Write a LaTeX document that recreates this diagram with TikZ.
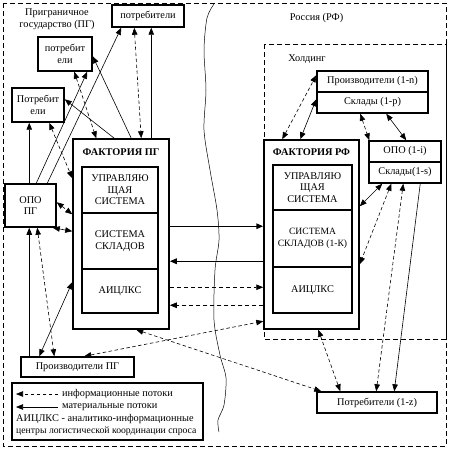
\documentclass[tikz,border=0pt]{standalone}
\usepackage{fontspec}
\setmainfont{Liberation Serif}
\usetikzlibrary{arrows.meta,calc}
\begin{document}
\begin{tikzpicture}[x=1pt,y=-1pt,
  >={Triangle[length=7pt,width=5.5pt]},
  font=\fontsize{10.3}{11.5}\selectfont,
  box/.style={draw, line width=1.5pt, inner sep=0pt, align=center},
  txt/.style={inner sep=0pt, align=center},
  mat/.style={line width=0.6pt},
  inf/.style={line width=0.6pt, dash pattern=on 3.5pt off 2.5pt},
  matthick/.style={line width=1.5pt},
  infthick/.style={line width=0.8pt, dash pattern=on 4pt off 3pt},
  region/.style={line width=0.8pt, dash pattern=on 5pt off 3pt}]
\useasboundingbox (0,0) rectangle (448,449);

% regions
\draw[region] (3,3) rectangle (446,446);
\draw[region] (264,44) rectangle (446,339);
\draw[line width=0.5pt] plot[smooth] coordinates {(214,4) (207,18) (204,50) (206,90) (204,130) (210,170) (217,210) (219,240) (215,270) (214,320) (220,355) (226,378) (224,405) (218,420) (219,432)};

% labels
\node[txt] (lpg) at (57,19) {Приграничное\\государство (ПГ)};
\node[txt] (lrf) at (316.5,18) {Россия (РФ)};
\node[txt] (lhold) at (307,59) {Холдинг};

% boxes PG
\node[box, minimum width=72pt, minimum height=22pt] (potr1) at (148,16) {потребители};
\node[box, minimum width=54pt, minimum height=34pt] (potr2) at (65,54) {потребит\\ели};
\node[box, minimum width=52pt, minimum height=34pt] (potr3) at (38,105) {Потребит\\ели};
\node[box, minimum width=51pt, minimum height=43pt] (opo) at (30.5,205.5) {ОПО\\ПГ};
\node[box, minimum width=113pt, minimum height=20pt] (prodpg) at (77.5,367) {Производители ПГ};

% factory PG
\node[box, minimum width=96pt, minimum height=190pt] (fpg) at (121,234) {};
\node[txt, font=\fontsize{10.3}{11.5}\selectfont\bfseries] (fpgt) at (121,152) {ФАКТОРИЯ ПГ};
\node[box, minimum width=76pt, minimum height=46pt] (fpg1) at (120,190) {УПРАВЛЯЮ\\ЩАЯ\\СИСТЕМА};
\node[box, minimum width=76pt, minimum height=56pt] (fpg2) at (120,241) {СИСТЕМА\\СКЛАДОВ};
\node[box, minimum width=76pt, minimum height=44pt] (fpg3) at (120,291) {АИЦЛКС};

% factory RF
\node[box, minimum width=95pt, minimum height=189pt] (frf) at (311.5,234.5) {};
\node[txt, font=\fontsize{10.3}{11.5}\selectfont\bfseries] (frft) at (311.5,152) {ФАКТОРИЯ РФ};
\node[box, minimum width=79pt, minimum height=45pt] (frf1) at (312.5,187.5) {УПРАВЛЯЮ\\ЩАЯ\\СИСТЕМА};
\node[box, minimum width=79pt, minimum height=57pt, font=\fontsize{9.6}{11.5}\selectfont] (frf2) at (312.5,238.5) {СИСТЕМА\\СКЛАДОВ (1-К)};
\node[box, minimum width=79pt, minimum height=46pt] (frf3) at (312.5,290) {АИЦЛКС};

% holding boxes
\node[box, minimum width=111pt, minimum height=21pt] (prodn) at (372.5,81.5) {Производители (1-n)};
\node[box, minimum width=111pt, minimum height=21pt] (sklp) at (372.5,102.5) {Склады (1-р)};
\node[box, minimum width=72pt, minimum height=21pt] (opoi) at (405,151.5) {ОПО (1-i)};
\node[box, minimum width=72pt, minimum height=21pt] (skls) at (405,172.5) {Склады(1-s)};
\node[box, minimum width=120pt, minimum height=21pt] (potrz) at (377,402.5) {Потребители (1-z)};

% legend
\node[box, minimum width=191pt, minimum height=57pt] (leg) at (107.5,411.5) {};
\node[txt, anchor=west] (leg1) at (62,394) {информационные потоки};
\node[txt, anchor=west] (leg2) at (62,407) {материальные потоки};
\node[txt, anchor=west] (leg3) at (16,419) {АИЦЛКС - аналитико-информационные};
\node[txt, anchor=west, font=\fontsize{9.7}{11}\selectfont] (leg4) at (16,431) {центры логистической координации спроса};
\coordinate (la1) at (16,394); \coordinate (lb1) at (58,394);
\coordinate (la2) at (16,407); \coordinate (lb2) at (58,407);
\draw[inf,->] (lb1) -- (la1);
\draw[mat,->] (lb2) -- (la2);

% connectors top-left
\draw[mat,->] ($(fpg.north west)+(79,0)$) -- ($(potr1.south west)+(40,0)$);
\draw[inf,<->] ($(potr1.south west)+(23,0)$) -- ($(fpg.north west)+(69,0)$);
\draw[mat,->] ($(fpg.north west)+(59,0)$) -- ($(potr2.north east)+(0,20)$);
\draw[mat,->] ($(fpg.north west)+(42,0)$) -- ($(potr3.north east)+(0,12)$);
\draw[inf,<->] ($(potr2.south west)+(37,0)$) -- ($(fpg.north west)+(24,0)$);
\draw[mat,->] ($(opo.north west)+(32,0)$) -- ($(potr2.south west)+(50,0)$);
\draw[mat,->] ($(opo.north west)+(43,0)$) -- ($(potr1.south west)+(10,0)$);
\draw[mat,->] ($(opo.north west)+(25,0)$) -- ($(potr3.south west)+(18,0)$);
\draw[inf,<->] ($(potr3.south west)+(38,0)$) -- ($(fpg.north west)+(0,40)$);
\draw[inf,<->] ($(opo.north east)+(0,19)$) -- ($(fpg.north west)+(0,76)$);
\draw[mat,<->] ($(opo.south east)+(-4,0)$) -- ($(fpg.north west)+(0,93)$);
\draw[mat,->] ($(prodpg.north west)+(9,0)$) -- ($(opo.south west)+(25,0)$);
\draw[inf,<->] ($(opo.south west)+(33,0)$) -- ($(prodpg.north west)+(34,0)$);
\draw[mat,<->] ($(fpg.north west)+(0,144)$) -- ($(prodpg.north west)+(19,0)$);
\draw[inf,<->] ($(prodpg.north west)+(64,0)$) -- ($(frf.north west)+(0,182)$);
\draw[inf,<->] ($(fpg.south west)+(64,0)$) -- ($(potrz.north west)+(5,0)$);

% between factories
\draw[matthick,->] ($(fpg.north east)+(0,88)$) -- ($(frf.north west)+(0,87)$);
\draw[matthick,->] ($(frf.north west)+(0,122)$) -- ($(fpg.north east)+(0,123)$);
\draw[infthick,->] ($(fpg.north east)+(0,149)$) -- ($(frf.north west)+(0,148)$);
\draw[infthick,->] ($(frf.north west)+(0,166)$) -- ($(fpg.north east)+(0,167)$);

% holding connectors
\draw[inf,<->] ($(frf.north west)+(19,0)$) -- ($(prodn.north west)+(0,5)$);
\draw[mat,<->] ($(frf.north west)+(37,0)$) -- ($(sklp.north west)+(0,8)$);
\draw[inf,<->] ($(sklp.south west)+(44,0)$) -- ($(opoi.north west)+(1,0)$);
\draw[mat,<->] ($(sklp.south west)+(70,0)$) -- ($(opoi.north west)+(38,0)$);
\draw[mat,<->] ($(skls.south west)+(14,0)$) -- ($(frf.north east)+(0,67)$);
\draw[inf,<->] ($(skls.south west)+(23,0)$) -- ($(frf.north east)+(0,125)$);
\draw[inf,<->] ($(skls.south west)+(35,0)$) -- ($(potrz.north west)+(60,0)$);
\draw[mat,->] ($(skls.south west)+(52,0)$) -- ($(potrz.north west)+(78,0)$);
\draw[inf,<->] ($(frf.south west)+(55,0)$) -- ($(potrz.north west)+(24,0)$);
\end{tikzpicture}
\end{document}
